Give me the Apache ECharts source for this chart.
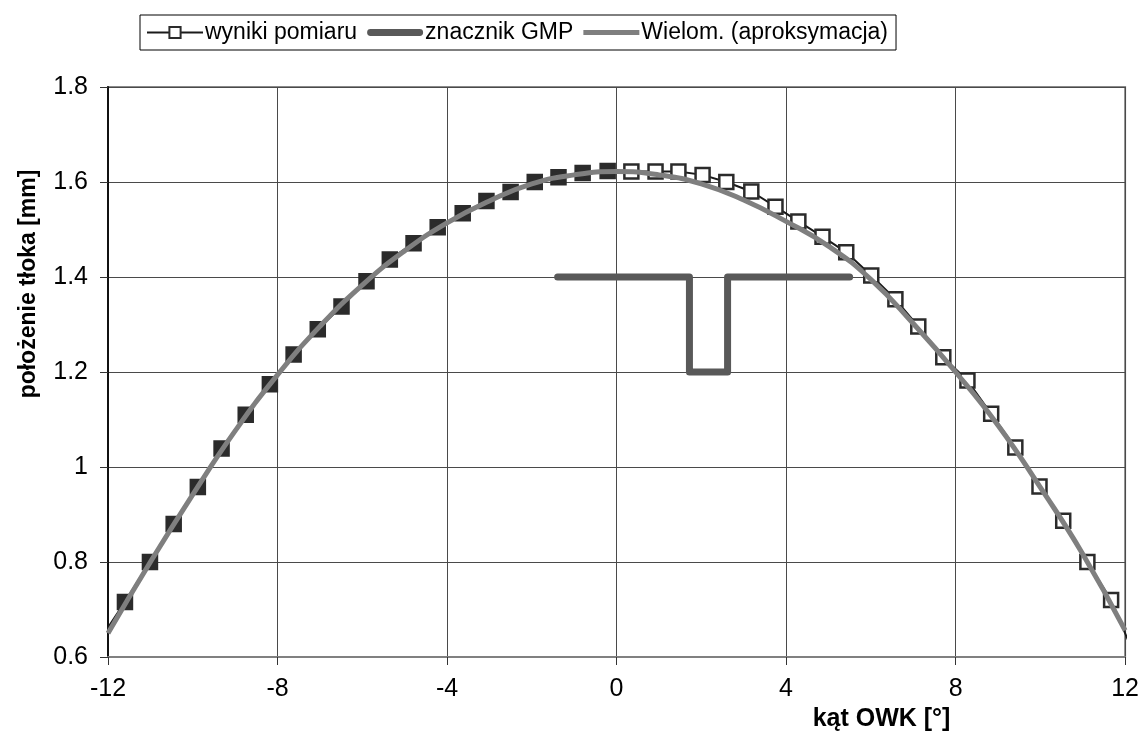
<!DOCTYPE html>
<html>
<head>
<meta charset="utf-8">
<script src="https://cdn.jsdelivr.net/npm/echarts@6/dist/echarts.min.js"></script>
<style>
html,body{margin:0;padding:0;background:#fff;}
#chart{width:1142px;height:742px;}
</style>
</head>
<body>
<div id="chart"></div>
<script>
// measured points (the first and last lie outside the axis range: line only)
var measX = [-12.15,-11.60,-11.01,-10.45,-9.88,-9.32,-8.75,-8.18,-7.62,-7.05,-6.49,-5.90,-5.35,-4.79,-4.22,-3.63,-3.07,-2.50,-1.93,-1.37,-0.80,-0.21,0.35,0.92,1.46,2.03,2.59,3.18,3.75,4.29,4.86,5.42,6.01,6.58,7.12,7.71,8.28,8.84,9.41,9.98,10.54,11.11,11.67,12.17];
var measY = [0.642,0.716,0.800,0.880,0.958,1.039,1.110,1.174,1.237,1.290,1.338,1.391,1.437,1.471,1.505,1.534,1.560,1.579,1.600,1.610,1.619,1.623,1.622,1.622,1.622,1.615,1.600,1.580,1.548,1.517,1.485,1.452,1.403,1.353,1.296,1.231,1.182,1.112,1.041,0.959,0.887,0.800,0.720,0.614];
// polynomial approximation
var fitX = [-12,-11,-10,-9,-8,-7,-6,-5,-4,-3,-2,-1,0,1,2,3,4,5,6,7,8,9,10,11,12];
var fitY = [0.650,0.800,0.942,1.076,1.194,1.296,1.383,1.455,1.514,1.560,1.596,1.615,1.622,1.615,1.596,1.562,1.517,1.465,1.395,1.302,1.200,1.088,0.957,0.817,0.656];
// GMP (TDC) marker polyline
var gmpX = [-1.39,1.72,1.72,2.62,2.62,5.50];
var gmpY = [1.40,1.40,1.20,1.20,1.40,1.40];

var seriesNames = ['wyniki pomiaru','znacznik GMP','Wielom. (aproksymacja)'];
var xTitle = 'kąt OWK [°]';
var yTitle = 'położenie tłoka [mm]';

var measData = measX.map(function(x,i){
  var d = {value:[x, measY[i]]};
  if (x < -12 || x > 12) { d.symbol = 'none'; }
  else if (x < 0) { d.itemStyle = {color:'#2b2b2b'}; }
  return d;
});
var fitData = fitX.map(function(x,i){ return [x, fitY[i]]; });
var gmpData = gmpX.map(function(x,i){ return [x, gmpY[i]]; });

var chart = echarts.init(document.getElementById('chart'));
var FONT = 'Liberation Sans, Arial, sans-serif';
chart.setOption({
  animation:false,
  backgroundColor:'#fff',
  textStyle:{fontFamily:FONT},
  legend:{
    top:15, left:140,
    padding:[6,8,6,6],
    borderColor:'#000', borderWidth:1,
    itemGap:10,
    itemWidth:56, itemHeight:14,
    symbolKeepAspect:true,
    textStyle:{fontSize:23, color:'#000', fontFamily:FONT, padding:[0,0,0,-3]},
    data:[
      {name:seriesNames[0]},
      {name:seriesNames[1], icon:'path://M3,0H53A3,3 0 0 1 53,7H3A3,3 0 0 1 3,0Z'},
      {name:seriesNames[2], icon:'path://M0,0H56V5H0Z'}
    ]
  },
  grid:{left:108, right:16, top:87, bottom:85, show:true, borderColor:'#8a8a8a', borderWidth:2},
  xAxis:{
    type:'value', min:-12, max:12, interval:4,
    name:xTitle, nameLocation:'middle', nameGap:46,
    nameTextStyle:{fontSize:25, fontWeight:'bold', color:'#000', padding:[0,0,0,530]},
    axisLine:{show:true, onZero:false, lineStyle:{color:'#808080', width:2}},
    axisTick:{show:true, length:8, lineStyle:{color:'#333', width:1}},
    axisLabel:{fontSize:25, color:'#000', margin:20},
    splitLine:{show:true, lineStyle:{color:'#4a4a4a', width:1}}
  },
  yAxis:{
    type:'value', min:0.6, max:1.8, interval:0.2,
    name:yTitle, nameLocation:'middle', nameGap:68,
    nameTextStyle:{fontSize:23, fontWeight:'bold', color:'#000', padding:[0,0,0,176]},
    axisLine:{show:true, onZero:false, lineStyle:{color:'#111', width:2}},
    axisTick:{show:true, length:8, lineStyle:{color:'#333', width:1}},
    axisLabel:{fontSize:25, color:'#000', margin:20},
    splitLine:{show:true, lineStyle:{color:'#4a4a4a', width:1}}
  },
  series:[
    {
      name:seriesNames[0], type:'line', data:measData, clip:false,
      symbol:'rect', symbolSize:14, showSymbol:true,
      lineStyle:{color:'#1a1a1a', width:2},
      itemStyle:{color:'#fff', borderColor:'#2b2b2b', borderWidth:2.5},
      z:2
    },
    {
      name:seriesNames[1], type:'line', data:gmpData,
      symbol:'none',
      lineStyle:{color:'#595959', width:7, cap:'round', join:'round'},
      itemStyle:{color:'#595959'},
      z:3
    },
    {
      name:seriesNames[2], type:'line', data:fitData, smooth:true,
      symbol:'none',
      lineStyle:{color:'#7f7f7f', width:5},
      itemStyle:{color:'#7f7f7f'},
      z:4
    }
  ]
});
</script>
</body>
</html>
